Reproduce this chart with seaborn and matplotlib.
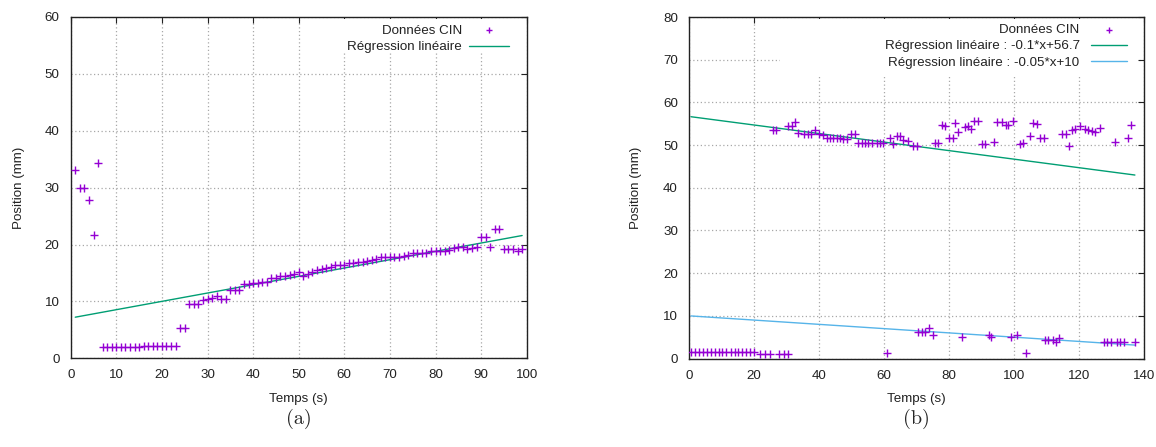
import numpy as np
import pandas as pd
import matplotlib
matplotlib.use("Agg")
import matplotlib.pyplot as plt
from matplotlib.patches import Rectangle
import seaborn as sns

# ---------------- data (a) ----------------
a_x = list(range(1, 100))
a_y = [33.1, 29.9, 29.9, 27.8, 21.6, 34.4,
       1.9, 1.9, 1.9, 1.9, 1.9, 1.9, 1.9, 1.9, 1.9,
       2.2, 2.2, 2.2, 2.2, 2.2, 2.2, 2.2, 2.2,
       5.3, 5.3, 9.5, 9.5, 9.5, 10.2, 10.4, 10.6, 11.0, 10.5, 10.5,
       12.0, 12.0, 12.0, 13.1, 13.1, 13.2, 13.3, 13.4, 13.5, 14.1, 14.2,
       14.5, 14.5, 14.6, 14.8, 15.1, 14.5, 14.8, 15.2, 15.6, 15.7, 15.9,
       16.0, 16.4, 16.4, 16.4, 16.7, 16.8, 17.0, 17.0, 17.1, 17.3, 17.5,
       17.8, 17.8, 17.8, 17.8, 17.8, 18.0, 18.1, 18.5, 18.5, 18.5, 18.5,
       18.8, 18.8, 18.8, 18.9, 19.0, 19.4, 19.5, 19.5, 19.2, 19.4, 19.5,
       21.3, 21.3, 19.5, 22.7, 22.7, 19.2, 19.2, 19.2, 18.9, 19.2]
a_fit = (0.1465, 7.08)  # slope, intercept

# ---------------- data (b) ----------------
b_x = [0.6, 1.8, 3.0, 4.2, 5.5, 6.7, 7.9, 9.1, 10.3, 11.5, 12.8, 14.0, 15.2,
       16.4, 17.6, 18.8, 20.0, 21.8, 23.4, 24.9, 27.8, 29.1, 30.4, 60.8,
       70.6, 71.6, 72.6, 73.9, 75.0, 83.9, 92.4, 92.8, 99.1, 101.0, 103.7,
       109.5, 110.6, 111.9, 112.9, 113.9,
       127.7, 128.7, 129.8, 131.8, 132.6, 133.8, 137.2,
       25.9, 26.8, 30.6, 31.6, 32.7, 33.6, 35.4, 36.5, 37.4, 38.8, 40.1, 41.3,
       42.4, 43.4, 44.4, 45.4, 46.5, 47.5, 48.5, 49.8, 51.1, 52.1, 53.1, 54.2,
       55.2, 56.2, 57.8, 58.8, 59.8, 61.8, 62.9, 64.1, 64.9, 65.9, 67.3, 69.0,
       70.2, 75.7, 76.7, 77.8, 78.8, 80.1, 81.1, 81.8, 82.9, 84.9, 85.9, 86.8,
       87.7, 88.8, 90.1, 91.1, 93.9, 94.9, 96.2, 97.5, 98.2, 99.8, 101.8,
       102.9, 104.9, 105.9, 107.0, 108.0, 109.2, 114.9, 115.9, 116.9, 117.8,
       118.8, 120.3, 121.8, 122.9, 123.9, 124.9, 126.5, 131.1, 135.2, 136.0]
b_y = [1.45] * 17 + [1.05] * 6 + [1.2,
       6.1, 6.1, 6.1, 7.1, 5.5, 5.1, 5.5, 5.1, 5.1, 5.5, 1.2,
       4.3, 4.3, 4.3, 3.9, 4.7,
       3.8, 3.8, 3.8, 3.8, 3.8, 3.8, 3.8,
       53.5, 53.5, 54.4, 54.4, 55.4, 52.9, 52.6, 52.6, 52.6, 53.5, 52.6, 52.3,
       51.6, 51.6, 51.6, 51.6, 51.6, 51.4, 51.4, 52.6, 52.6, 50.6, 50.6, 50.6,
       50.6, 50.6, 50.4, 50.6, 50.6, 51.6, 50.2, 52.2, 52.2, 51.2, 51.0, 49.8,
       49.8, 50.4, 50.4, 54.8, 54.4, 51.6, 51.6, 55.2, 53.0, 54.3, 54.4, 53.8,
       55.7, 55.7, 50.2, 50.2, 50.8, 55.3, 55.3, 54.8, 54.8, 55.7, 50.2,
       50.4, 52.2, 55.2, 55.0, 51.6, 51.6, 52.6, 52.6, 49.8, 53.5,
       53.7, 54.4, 53.7, 53.5, 53.3, 53.0, 54.1, 50.8, 51.6, 54.8]
b_fit1 = (-0.1, 56.7)
b_fit2 = (-0.05, 10.0)

labels_a = ["Données CIN", "Régression linéaire"]
labels_b = ["Données CIN", "Régression linéaire : -0.1*x+56.7",
            "Régression linéaire : -0.05*x+10"]

PURPLE = "#9400d3"
GREEN = "#009e73"
BLUE = "#56b4e9"
FS = 9.6

sns.set_style("white")
plt.rcParams["font.family"] = ["Liberation Sans", "DejaVu Sans"]
plt.rcParams["font.size"] = FS

fig = plt.figure(figsize=(11.56, 4.47), dpi=100)
axa = fig.add_axes([70.7 / 1156, (447 - 358.3) / 447, 456 / 1156, 341.3 / 447])
axb = fig.add_axes([689 / 1156, (447 - 358.5) / 447, 455 / 1156, 341.5 / 447])


def style(ax, xmax, xstep, ymax, ystep):
    ax.set_xlim(0, xmax)
    ax.set_ylim(0, ymax)
    ax.set_xticks(np.arange(0, xmax + 1, xstep))
    ax.set_yticks(np.arange(0, ymax + 1, ystep))
    ax.grid(True, color="#a8a8a8", linestyle=(0, (1, 2)), linewidth=0.9)
    ax.set_axisbelow(True)
    ax.tick_params(direction="in", top=True, right=True, length=4,
                   width=0.8, colors="#222222", labelsize=FS,
                   labelcolor="#222222")
    ax.tick_params(axis="y", pad=8)
    ax.tick_params(axis="x", pad=8)
    for s in ax.spines.values():
        s.set_color("#222222")
        s.set_linewidth(1.0)


# (a)
df_a = pd.DataFrame({"x": a_x, "y": a_y})
xa_line = np.array([min(a_x), max(a_x)])
df_a_line = pd.DataFrame({"x": xa_line, "y": a_fit[0] * xa_line + a_fit[1]})
style(axa, 100, 10, 60, 10)
axa.add_patch(Rectangle((0.57, 0.9), 0.42, 0.095, transform=axa.transAxes,
                        facecolor="white", edgecolor="none", zorder=1.5))
sns.scatterplot(data=df_a, x="x", y="y", ax=axa, marker="+", s=40,
                color=PURPLE, linewidth=1.0, label=labels_a[0], zorder=3)
sns.lineplot(data=df_a_line, x="x", y="y", ax=axa, color=GREEN,
             linewidth=1.0, label=labels_a[1], zorder=2)
axa.set_xlabel("Temps (s)", fontsize=FS, color="#222222")
axa.set_ylabel("Position (mm)", fontsize=FS, color="#222222")
axa.xaxis.set_label_coords(0.5, -0.102)
axa.yaxis.set_label_coords(-0.1, 0.5)
leg = axa.legend(loc="upper right", bbox_to_anchor=(0.976, 0.998),
                 frameon=False, markerfirst=False, handlelength=3.0,
                 handletextpad=0.55, labelspacing=0.32, borderpad=0,
                 fontsize=FS, markerscale=0.6)
for t in leg.get_texts():
    t.set_color("#222222")

# (b)
df_b = pd.DataFrame({"x": b_x, "y": b_y})
xb_line = np.array([min(b_x), max(b_x)])
df_b1 = pd.DataFrame({"x": xb_line, "y": b_fit1[0] * xb_line + b_fit1[1]})
df_b2 = pd.DataFrame({"x": xb_line, "y": b_fit2[0] * xb_line + b_fit2[1]})
style(axb, 140, 20, 80, 10)
axb.add_patch(Rectangle((0.2, 0.83), 0.785, 0.165, transform=axb.transAxes,
                        facecolor="white", edgecolor="none", zorder=1.5))
sns.scatterplot(data=df_b, x="x", y="y", ax=axb, marker="+", s=40,
                color=PURPLE, linewidth=1.0, label=labels_b[0], zorder=3)
sns.lineplot(data=df_b1, x="x", y="y", ax=axb, color=GREEN,
             linewidth=1.0, label=labels_b[1], zorder=2)
sns.lineplot(data=df_b2, x="x", y="y", ax=axb, color=BLUE,
             linewidth=1.0, label=labels_b[2], zorder=2)
axb.set_xlabel("Temps (s)", fontsize=FS, color="#222222")
axb.set_ylabel("Position (mm)", fontsize=FS, color="#222222")
axb.xaxis.set_label_coords(0.5, -0.102)
axb.yaxis.set_label_coords(-0.103, 0.5)
leg = axb.legend(loc="upper right", bbox_to_anchor=(0.977, 1.0),
                 frameon=False, markerfirst=False, handlelength=2.7,
                 handletextpad=0.85, labelspacing=0.3, borderpad=0,
                 fontsize=FS, markerscale=0.6)
for t in leg.get_texts():
    t.set_color("#222222")

fig.text((70.7 + 228) / 1156, 1 - 419 / 447, "(a)", ha="center", va="center",
         fontsize=14.5, family=["cmr10", "DejaVu Serif"])
fig.text((689 + 227.5) / 1156, 1 - 419 / 447, "(b)", ha="center", va="center",
         fontsize=14.5, family=["cmr10", "DejaVu Serif"])

fig.savefig("out.png", dpi=100)
